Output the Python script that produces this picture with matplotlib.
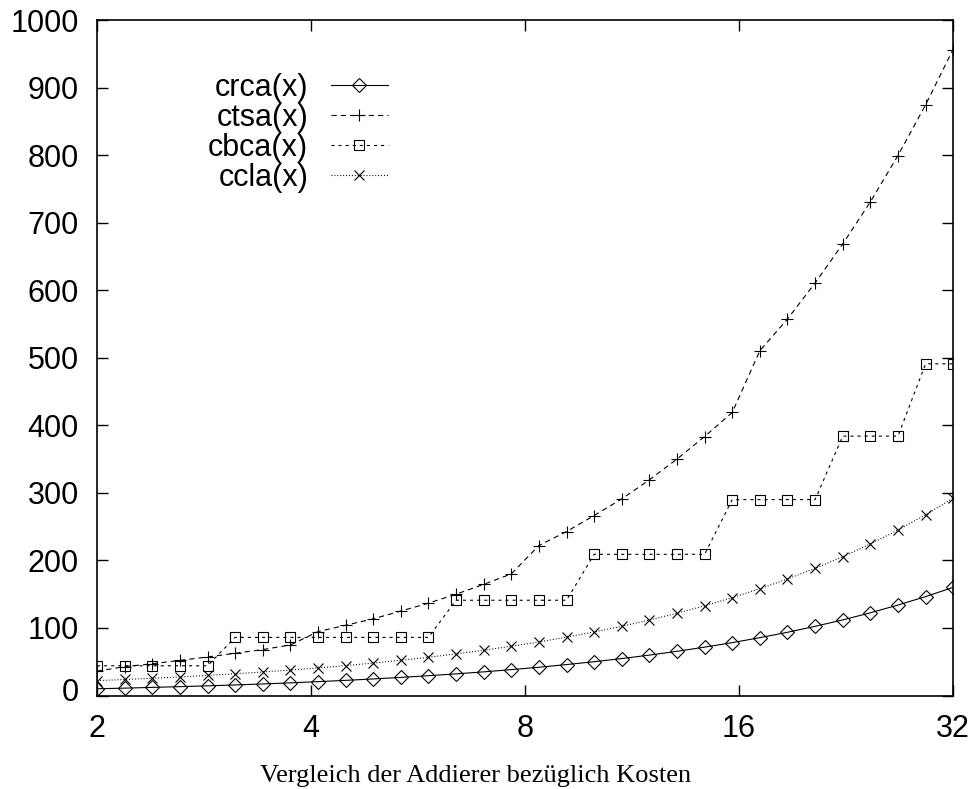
import matplotlib
matplotlib.use("Agg")
import matplotlib.pyplot as plt
import matplotlib.transforms as mtransforms
from matplotlib.ticker import FixedLocator, FixedFormatter, NullLocator

plt.rcParams['font.family'] = ['Liberation Sans', 'DejaVu Sans']
plt.rcParams['lines.scale_dashes'] = False

# word width x (sampled evenly on the log2 axis between 2 and 32)
x = [2.000, 2.187, 2.392, 2.616, 2.861, 3.128, 3.421, 3.741,
     4.091, 4.474, 4.893, 5.350, 5.851, 6.399, 6.997, 7.652,
     8.368, 9.152, 10.008, 10.945, 11.969, 13.089, 14.314, 15.653,
     17.118, 18.720, 20.472, 22.388, 24.483, 26.774, 29.280, 32.000]

crca = [10.0, 10.9, 12.0, 13.1, 14.3, 15.6, 17.1, 18.7,
        20.5, 22.4, 24.5, 26.8, 29.3, 32.0, 35.0, 38.3,
        41.8, 45.8, 50.0, 54.7, 59.8, 65.4, 71.6, 78.3,
        85.6, 93.6, 102.4, 111.9, 122.4, 133.9, 146.4, 160.0]

ctsa = [36.0, 42.7, 47.0, 52.0, 57.0, 62.5, 68.0, 74.8,
        94.5, 104.0, 113.5, 125.0, 136.7, 150.0, 164.5, 180.0,
        222.0, 242.7, 266.4, 291.0, 319.3, 350.0, 383.4, 419.0,
        510.4, 557.3, 610.7, 668.4, 730.7, 799.3, 874.4, 956.3]

cbca = [44, 44, 44, 44, 44, 86, 86, 86,
        86, 86, 86, 86, 86, 141, 141, 141,
        141, 141, 209, 209, 209, 209, 209, 290,
        290, 290, 290, 384, 384, 384, 491, 491]

ccla = [22.0, 23.7, 25.5, 27.5, 29.7, 32.2, 34.8, 37.7,
        40.8, 44.3, 48.0, 52.2, 56.7, 61.6, 67.0, 72.9,
        79.3, 86.4, 94.1, 102.5, 111.7, 121.8, 132.8, 144.9,
        158.1, 172.5, 188.2, 205.5, 224.3, 245.0, 267.5, 292.0]

x_ticks = [2, 4, 8, 16, 32]
x_labels = ["2", "4", "8", "16", "32"]
y_ticks = [0, 100, 200, 300, 400, 500, 600, 700, 800, 900, 1000]
caption = "Vergleich der Addierer bezüglich Kosten"

W, H = 973, 789
fig = plt.figure(figsize=(W / 100, H / 100), dpi=100)
ax = fig.add_axes([97 / W, 1 - 695.5 / H, (953 - 97) / W, (695.5 - 20) / H])

lw = 0.8
common = dict(color='black', lw=lw, markerfacecolor='none',
              markeredgecolor='black', markeredgewidth=0.8)

ax.plot(x, crca, linestyle='-', marker='D', markersize=7.2,
        label='crca(x)', **common)
ax.plot(x, ctsa, linestyle=(0, (3.8, 2.9)), marker='+', markersize=8,
        label='ctsa(x)', **common)
ax.plot(x, cbca, linestyle=(0, (2.2, 2.9)), marker='s', markersize=7.3,
        label='cbca(x)', **common)
ax.plot(x, ccla, linestyle=(0, (0.7, 1.4)), marker='x', markersize=7.5,
        label='ccla(x)', **common)

ax.set_xscale('log', base=2)
ax.set_xlim(2, 32)
ax.set_ylim(0, 1000)
ax.xaxis.set_major_locator(FixedLocator(x_ticks))
ax.xaxis.set_major_formatter(FixedFormatter(x_labels))
ax.xaxis.set_minor_locator(NullLocator())
ax.yaxis.set_major_locator(FixedLocator(y_ticks))
ax.yaxis.set_minor_locator(NullLocator())

ax.tick_params(axis='both', which='major', direction='in', length=8,
               width=1.0, labelsize=22, top=True, right=True, pad=13)
for s in ax.spines.values():
    s.set_linewidth(1.2)

leg = ax.legend(loc='upper left', bbox_to_anchor=(0.1297, 0.9215),
                frameon=False, markerfirst=False, fontsize=22,
                handlelength=1.86, handletextpad=0.75, labelspacing=0.0,
                borderpad=0.0, borderaxespad=0.0)

# lift the "0" label a little off the x axis
fig.canvas.draw()
zero_label = ax.yaxis.get_major_ticks()[0].label1
zero_label.set_transform(zero_label.get_transform() +
                         mtransforms.ScaledTranslation(0, 6 / 100,
                                                       fig.dpi_scale_trans))

fig.text(476 / W, 1 - 776 / H, caption, ha='center', va='center',
         fontsize=19, family=['Liberation Serif', 'DejaVu Serif'])

fig.savefig('out.png', dpi=100)
